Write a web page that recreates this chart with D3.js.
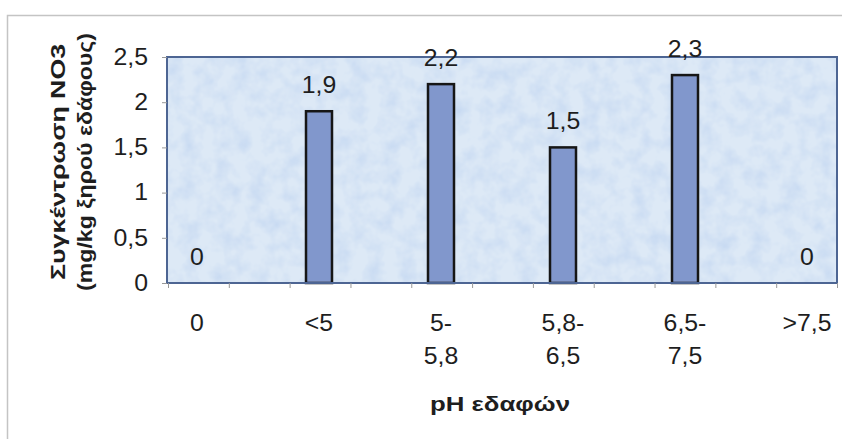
<!DOCTYPE html>
<html>
<head>
<meta charset="utf-8">
<script src="https://cdn.jsdelivr.net/npm/d3@7"></script>
<style>
  body { margin: 0; background: #fff; }
  text { font-family: "Liberation Sans", Arial, sans-serif; fill: #1e1e1e; }
</style>
</head>
<body>
<div id="chart"></div>
<script>
// pH categories and NO3 values
const categories = ['0', '<5', '5-5,8', '5,8-6,5', '6,5-7,5', '>7,5'];
const tickLines = [['0'], ['<5'], ['5-', '5,8'], ['5,8-', '6,5'], ['6,5-', '7,5'], ['>7,5']];
const values = [0, 1.9, 2.2, 1.5, 2.3, 0];
const valueLabels = ['0', '1,9', '2,2', '1,5', '2,3', '0'];
const yTicks = [0, 0.5, 1, 1.5, 2, 2.5];

const W = 846, H = 439;
const plot = { left: 167, right: 837, top: 57, bottom: 283 };
const FS = 23;      // label font size
const SX = 1.08;    // the scan is a bit wider than the font

const svg = d3.select('#chart').append('svg')
  .attr('width', W)
  .attr('height', H);

// outer chart frame (only top and left visible in the scan)
svg.append('path')
  .attr('d', `M7.5,${H} V15.5 H842`)
  .attr('fill', 'none')
  .attr('stroke', '#c4c4c4')
  .attr('stroke-width', 1.5);

// mottled background texture
const defs = svg.append('defs');
const f = defs.append('filter').attr('id', 'mottle')
  .attr('x', 0).attr('y', 0).attr('width', 1).attr('height', 1);
f.append('feTurbulence').attr('type', 'fractalNoise')
  .attr('baseFrequency', 0.06).attr('numOctaves', 3).attr('seed', 4).attr('result', 'n');
f.append('feColorMatrix').attr('in', 'n').attr('type', 'matrix')
  .attr('values', '0 0 0 0 0.55  0 0 0 0 0.68  0 0 0 0 0.88  0 0 0 -1.5 0.95')
  .attr('result', 'c');
f.append('feComposite').attr('in', 'c').attr('in2', 'SourceGraphic').attr('operator', 'in');

const x = d3.scaleBand()
  .domain(categories)
  .range([136, 868]);
const cx = c => x(c) + x.bandwidth() / 2;

const y = d3.scaleLinear()
  .domain([0, 2.5])
  .range([plot.bottom, plot.top]);

svg.append('rect')
  .attr('x', plot.left).attr('y', plot.top)
  .attr('width', plot.right - plot.left).attr('height', plot.bottom - plot.top)
  .attr('fill', '#dde9f6');
svg.append('rect')
  .attr('x', plot.left).attr('y', plot.top)
  .attr('width', plot.right - plot.left).attr('height', plot.bottom - plot.top)
  .attr('fill', '#dde9f6')
  .attr('filter', 'url(#mottle)');

// bars
const barW = 26;
svg.selectAll('.bar')
  .data(values)
  .enter().append('rect')
  .attr('class', 'bar')
  .attr('x', (d, i) => cx(categories[i]) - barW / 2)
  .attr('y', d => y(d))
  .attr('width', barW)
  .attr('height', d => y(0) - y(d))
  .attr('fill', '#8197cc')
  .attr('stroke', '#161616')
  .attr('stroke-width', 2.5)
  .style('display', d => d > 0 ? null : 'none');

// plot border
svg.append('rect')
  .attr('x', plot.left).attr('y', plot.top)
  .attr('width', plot.right - plot.left).attr('height', plot.bottom - plot.top)
  .attr('fill', 'none')
  .attr('stroke', '#4d6593')
  .attr('stroke-width', 2);

// y axis
const yAxis = d3.axisLeft(y)
  .tickValues(yTicks)
  .tickSize(5)
  .tickPadding(14)
  .tickFormat(d => String(d).replace('.', ','));
const gy = svg.append('g')
  .attr('transform', `translate(${plot.left},0)`)
  .call(yAxis);
gy.select('.domain').remove();
gy.selectAll('line').attr('stroke', '#999');
gy.selectAll('text')
  .style('font-size', FS + 'px')
  .attr('fill', '#1e1e1e')
  .each(function() {
    const t = d3.select(this);
    t.attr('transform', `translate(${t.attr('x')},0) scale(${SX},1)`).attr('x', 0);
  });

// x minor ticks
const xt = d3.scaleLinear().domain([0, 11]).range([plot.left + 1, plot.right]);
const gx = svg.append('g')
  .attr('transform', `translate(0,${plot.bottom})`)
  .call(d3.axisBottom(xt).ticks(11).tickSize(5).tickFormat(''));
gx.select('.domain').remove();
gx.selectAll('line').attr('stroke', '#999');

// x tick labels (two lines)
svg.selectAll('.xlab')
  .data(tickLines)
  .enter().append('text')
  .attr('class', 'xlab')
  .attr('transform', (d, i) => `translate(${cx(categories[i])},0) scale(${SX},1)`)
  .attr('text-anchor', 'middle')
  .style('font-size', FS + 'px')
  .each(function(lines) {
    const t = d3.select(this);
    lines.forEach((l, j) => {
      t.append('tspan').attr('x', 0).attr('y', 331 + j * 33).text(l);
    });
  });

// value labels
svg.selectAll('.vlab')
  .data(values)
  .enter().append('text')
  .attr('class', 'vlab')
  .attr('transform', (d, i) => `translate(${cx(categories[i])},${y(d) - 18}) scale(${SX},1)`)
  .attr('text-anchor', 'middle')
  .style('font-size', FS + 'px')
  .text((d, i) => valueLabels[i]);

// axis titles
svg.append('text')
  .attr('x', 500).attr('y', 411)
  .attr('text-anchor', 'middle')
  .attr('textLength', 140)
  .attr('lengthAdjust', 'spacingAndGlyphs')
  .style('font-size', '21px')
  .style('font-weight', 'bold')
  .text('pH εδαφών');

const yt = svg.append('g')
  .attr('transform', 'translate(0,162) rotate(-90)');
yt.append('text')
  .attr('x', 0).attr('y', 65)
  .attr('text-anchor', 'middle')
  .attr('textLength', 236)
  .attr('lengthAdjust', 'spacingAndGlyphs')
  .style('font-size', '21px')
  .style('font-weight', 'bold')
  .text('Συγκέντρωση NO3');
yt.append('text')
  .attr('x', 0).attr('y', 92)
  .attr('text-anchor', 'middle')
  .attr('textLength', 258)
  .attr('lengthAdjust', 'spacingAndGlyphs')
  .style('font-size', '21px')
  .style('font-weight', 'bold')
  .text('(mg/kg ξηρού εδάφους)');
</script>
</body>
</html>
